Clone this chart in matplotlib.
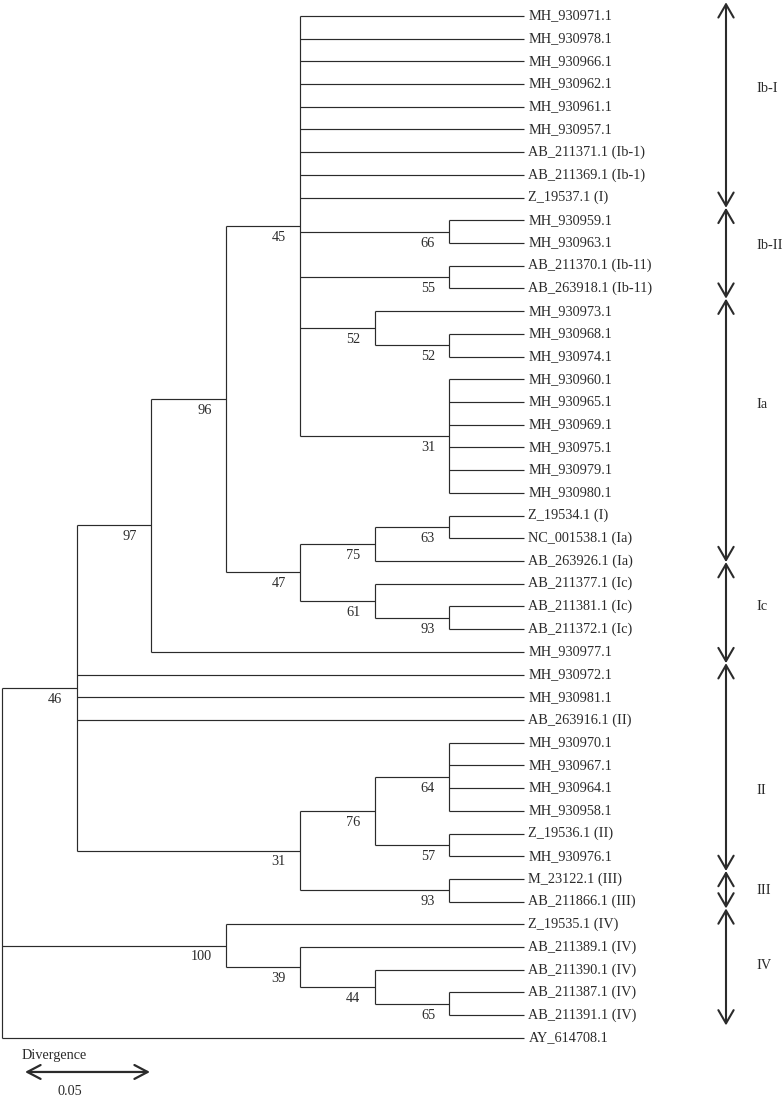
import matplotlib.pyplot as plt

plt.rcParams['font.family'] = ['Liberation Serif', 'DejaVu Serif']

# tree: (bootstrap, [children]); leaves are plain strings, listed top to bottom
tree = ("", [
    ("46", [
        ("97", [
            ("96", [
                ("45", [
                    "MH_930971.1", "MH_930978.1", "MH_930966.1", "MH_930962.1",
                    "MH_930961.1", "MH_930957.1", "AB_211371.1 (Ib-1)",
                    "AB_211369.1 (Ib-1)", "Z_19537.1 (I)",
                    ("66", ["MH_930959.1", "MH_930963.1"]),
                    ("55", ["AB_211370.1 (Ib-11)", "AB_263918.1 (Ib-11)"]),
                    ("52", ["MH_930973.1", ("52", ["MH_930968.1", "MH_930974.1"])]),
                    ("31", ["MH_930960.1", "MH_930965.1", "MH_930969.1",
                            "MH_930975.1", "MH_930979.1", "MH_930980.1"]),
                ]),
                ("47", [
                    ("75", [("63", ["Z_19534.1 (I)", "NC_001538.1 (Ia)"]),
                            "AB_263926.1 (Ia)"]),
                    ("61", ["AB_211377.1 (Ic)",
                            ("93", ["AB_211381.1 (Ic)", "AB_211372.1 (Ic)"])]),
                ]),
            ]),
            "MH_930977.1",
        ]),
        "MH_930972.1", "MH_930981.1", "AB_263916.1 (II)",
        ("31", [
            ("76", [("64", ["MH_930970.1", "MH_930967.1", "MH_930964.1", "MH_930958.1"]),
                    ("57", ["Z_19536.1 (II)", "MH_930976.1"])]),
            ("93", ["M_23122.1 (III)", "AB_211866.1 (III)"]),
        ]),
    ]),
    ("100", [
        "Z_19535.1 (IV)",
        ("39", ["AB_211389.1 (IV)",
                ("44", ["AB_211390.1 (IV)",
                        ("65", ["AB_211387.1 (IV)", "AB_211391.1 (IV)"])])]),
    ]),
    "AY_614708.1",
])

# clade brackets on the right (row units), label rows
clade_names = ["Ib-I", "Ib-II", "Ia", "Ic", "II", "III", "IV"]
clade_edges = [-0.6, 8.45, 12.45, 24.05, 28.5, 37.65, 39.3, 44.45]
clade_label_rows = [3.2, 10.1, 17.1, 26.0, 34.1, 38.5, 41.8]

level = 0.0298          # divergence per drawn level (topology-only layout)
scale_len = 0.05
ink = '#2b2b2b'
fs = 10.3

fig = plt.figure(figsize=(7.84, 10.99), dpi=100)
ax = fig.add_axes([0, 0, 1, 1])
ax.set_xlim(-0.0008, 0.3128)
ax.set_ylim(47.69, -0.70)
ax.axis('off')


def height(node):
    if isinstance(node, str):
        return 0
    return 1 + max(height(c) for c in node[1])


total = height(tree)
row = [0]


def layout(node):
    # returns (x, y) of node, drawing as it goes
    if isinstance(node, str):
        y = row[0]
        row[0] += 1
        x = total * level
        ax.text(x + 0.002, y, node, fontsize=fs, color=ink, ha='left', va='center')
        return x, y
    boot, kids = node
    x = (total - height(node)) * level
    pts = [layout(k) for k in kids]
    ys = [p[1] for p in pts]
    y = (ys[0] + ys[-1]) / 2
    ax.plot([x, x], [ys[0], ys[-1]], color=ink, lw=0.85, solid_capstyle='butt')
    for cx, cy in pts:
        ax.plot([x, cx], [cy, cy], color=ink, lw=0.85, solid_capstyle='butt')
    if boot:
        ax.text(x - 0.0056, y + 0.5, boot, fontsize=fs, color=ink, ha='right', va='center')
    return x, y


layout(tree)

# clade arrows
arrow_x = 0.2896
for i, name in enumerate(clade_names):
    ax.annotate('', xy=(arrow_x, clade_edges[i]), xytext=(arrow_x, clade_edges[i + 1]),
                arrowprops=dict(arrowstyle='<->,head_length=0.95,head_width=0.55',
                                lw=1.5, color=ink, shrinkA=0, shrinkB=0))
    ax.text(0.3016, clade_label_rows[i], name, fontsize=fs, color=ink, ha='left', va='center')

# scale bar
sb_x0 = 0.0092
sb_y = 46.5
ax.annotate('', xy=(sb_x0, sb_y), xytext=(sb_x0 + scale_len, sb_y),
            arrowprops=dict(arrowstyle='<->,head_length=0.95,head_width=0.5',
                            lw=1.6, color=ink, shrinkA=0, shrinkB=0))
ax.text(sb_x0 - 0.0012, sb_y - 0.72, "Divergence", fontsize=fs, color=ink, ha='left', va='center')
ax.text(sb_x0 + 0.0128, sb_y + 0.88, f"{scale_len:.2f}", fontsize=fs, color=ink, ha='left', va='center')

fig.savefig('out.png', dpi=100)
